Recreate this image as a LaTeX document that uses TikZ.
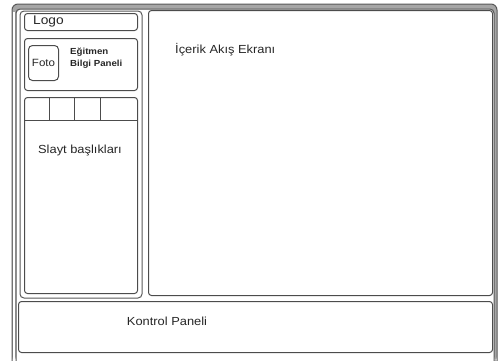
\documentclass[tikz,border=0pt]{standalone}
\usepackage{fontspec}
\setmainfont{Liberation Sans}[FakeStretch=1.1]
\begin{document}
\begin{tikzpicture}[x=1bp,y=-1bp,
  frame/.style={draw=black!65,line width=1bp,rounded corners=4bp},
  panel/.style={draw=black!70,line width=1bp,rounded corners=3bp,minimum width=#1},
  lbl/.style={font=\fontsize{11.7bp}{13bp}\selectfont,text=black!85,inner sep=0pt},
  small/.style={font=\fontsize{8.8bp}{11.5bp}\selectfont\bfseries,text=black!85,inner sep=0pt,align=left}]
\useasboundingbox (0,0) rectangle (502,360);
% outer frame
\fill[black!35,rounded corners=6bp] (12,362) -- (12,4) -- (497,4) -- (497,362) -- (494,362) -- (494,9) -- (16,9) -- (16,362) -- cycle;
\draw[frame,rounded corners=6bp] (12,362) -- (12,4) -- (497,4) -- (497,362);
\draw[frame] (16,362) -- (16,9) -- (494,9) -- (494,362);
\fill[white] (13,12) rectangle (15,362);
% left column
\draw[frame] (20,11) rectangle (142,298);
\node[panel=113bp,minimum height=17bp,anchor=north west] (logo) at (24,13) {};
\node[lbl,font=\fontsize{12.5bp}{13bp}\selectfont,anchor=west] (logot) at (33,21.5) {Logo};
\node[panel=113bp,minimum height=52bp,anchor=north west] (trainer) at (24,38) {};
\node[panel=30bp,minimum height=35bp,anchor=north west,rounded corners=4bp] (foto) at (28,45) {};
\node[lbl,font=\fontsize{10.5bp}{11bp}\selectfont] (fotot) at (foto.center) {Foto};
\node[small,anchor=north west] (egt) at (70,48) {Eğitmen\\Bilgi Paneli};
\node[panel=113bp,minimum height=196bp,anchor=north west] (slides) at (24,97) {};
\draw[draw=black!70,line width=1bp] (24,120) -- (137,120);
\draw[draw=black!70,line width=1bp] (49,97) -- (49,120) (74,97) -- (74,120) (100,97) -- (100,120);
\node[lbl] (slt) at (80,150) {Slayt başlıkları};
% content
\node[panel=344bp,minimum height=285bp,anchor=north west] (content) at (148,10) {};
\node[lbl,anchor=west] (ct) at (175,50) {İçerik Akış Ekranı};
% control
\node[panel=474bp,minimum height=51bp,anchor=north west] (control) at (18,301) {};
\node[lbl] (kt) at (167,321) {Kontrol Paneli};
\end{tikzpicture}
\end{document}
